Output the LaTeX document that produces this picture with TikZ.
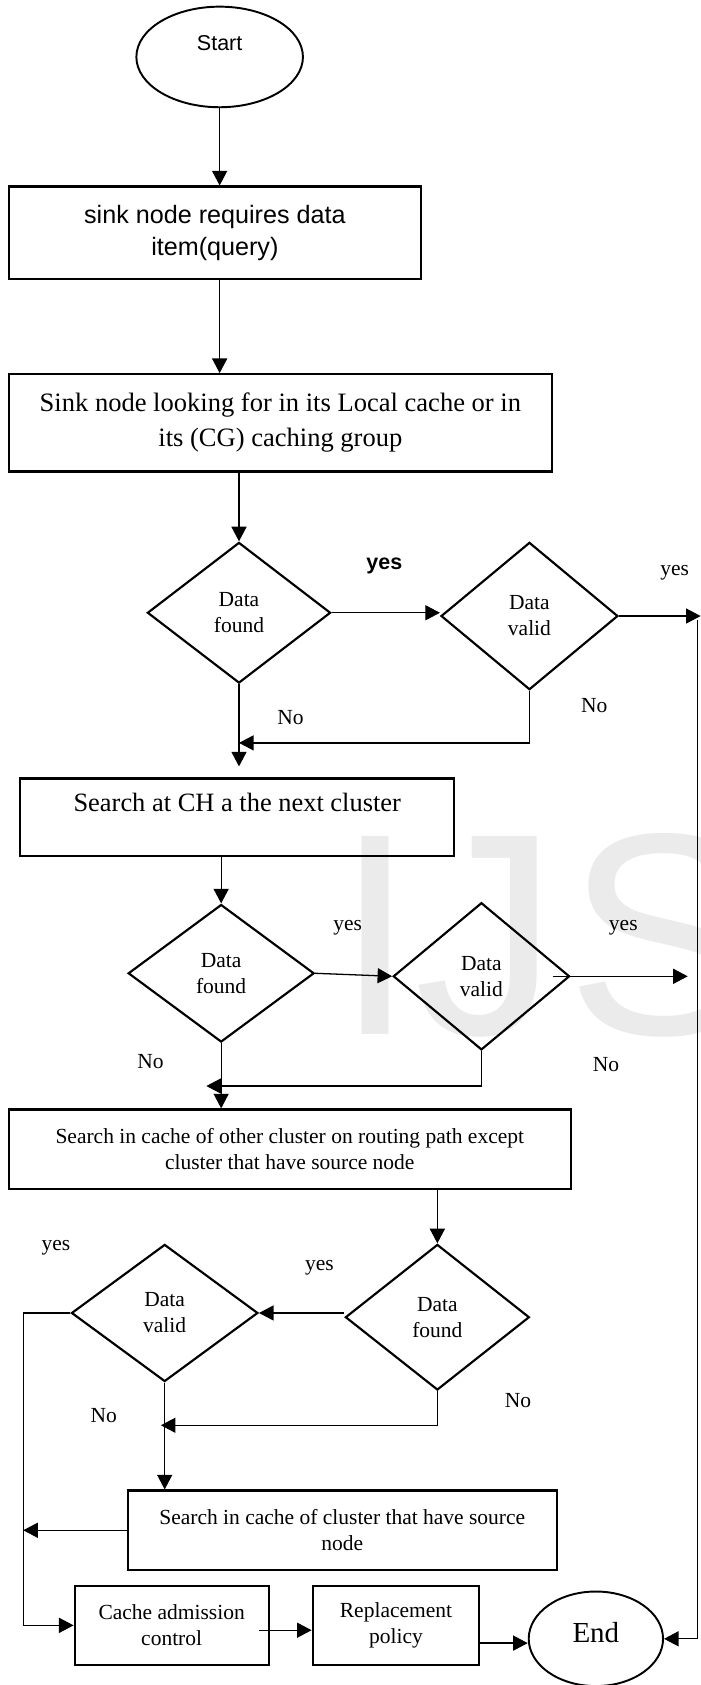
\documentclass[tikz,border=0pt]{standalone}
\usepackage{fontspec}
\setmainfont{Liberation Serif}
\setsansfont{Liberation Sans}
\usetikzlibrary{shapes.geometric,arrows.meta}

\begin{document}
\begin{tikzpicture}[x=0.5pt,y=-0.5pt,
  box/.style={draw, line width=1pt, rectangle, inner sep=0pt, align=center},
  dec/.style={draw, line width=1pt, diamond, inner sep=0pt, align=center,
              font=\fontsize{10}{12.1}\selectfont},
  term/.style={draw, line width=0.9pt, ellipse, inner sep=0pt},
  lab/.style={inner sep=0pt, font=\fontsize{10}{12}\selectfont},
  arr/.style={line width=0.6pt, -{Triangle[length=6.8pt,width=7pt]}},
  wm/.style={anchor=base west, inner sep=0pt, text=black!8,
             font=\sffamily\fontsize{134}{134}\selectfont}]
\useasboundingbox (0,0) rectangle (652,1568);
\fill[white] (0,0) rectangle (652,1568);

% faint watermark letters behind the chart
\begin{scope}
  \clip (0,0) rectangle (652,1568);
  \node[wm] (wmI) at (311.8,962.6) {I};
  \node[wm] (wmJ) at (385,962.6) {J};
  \node[wm] (wmS) at (527,962.6) {S};
\end{scope}

% terminals
\node[term, minimum width=77.5pt, minimum height=46.8pt,
      font=\sffamily\fontsize{10}{12}\selectfont, text depth=12.7pt]
      (start) at (204.4,53) {Start};
\node[term, minimum width=62.5pt, minimum height=44pt,
      font=\fontsize{13.5}{16}\selectfont, text depth=6.4pt]
      (stop) at (554.5,1525) {End};

% process boxes
\node[box, minimum width=191.65pt, minimum height=42.95pt,
      font=\sffamily\fontsize{11.7}{15}\selectfont]
      (query) at (199.95,216.55) {sink node requires data\\item(query)};
\node[box, minimum width=252.6pt, minimum height=45.25pt,
      font=\fontsize{12.35}{16.3}\selectfont]
      (look) at (260.9,393.45) {Sink node looking for in its Local cache or in\\its (CG) caching group};
\node[box, minimum width=202.05pt, minimum height=36.1pt,
      font=\fontsize{12.3}{15}\selectfont, text depth=13.6pt]
      (next) at (220.75,760.6) {Search at CH a the next cluster};
\node[box, minimum width=261.35pt, minimum height=36.9pt,
      font=\fontsize{10}{12.4}\selectfont]
      (other) at (269.65,1069.3) {Search in cache of other cluster on routing path except\\cluster that have source node};
\node[box, minimum width=199.5pt, minimum height=37pt,
      font=\fontsize{10}{12.1}\selectfont]
      (source) at (318.5,1424) {Search in cache of cluster that have source\\node};
\node[box, minimum width=90.25pt, minimum height=36.5pt,
      font=\fontsize{10}{12.1}\selectfont]
      (admit) at (159.75,1512.5) {Cache admission\\control};
\node[box, minimum width=77.5pt, minimum height=36.5pt,
      font=\fontsize{10}{12.1}\selectfont]
      (replace) at (368.5,1512.5) {Replacement\\policy};

% decisions
\node[dec, minimum width=85.25pt, minimum height=65.45pt] (df1) at (222.4,570.2) {Data\\found};
\node[dec, minimum width=82.3pt, minimum height=68.55pt] (dv1) at (492.7,573.25) {Data\\valid};
\node[dec, minimum width=86.5pt, minimum height=64pt] (df2) at (205.8,905.7) {Data\\found};
\node[dec, minimum width=82.05pt, minimum height=68.5pt] (dv2) at (448,908.5) {Data\\valid};
\node[dec, minimum width=85.6pt, minimum height=67.75pt] (df3) at (407,1225.75) {Data\\found};
\node[dec, minimum width=86.75pt, minimum height=63.8pt] (dv3) at (153.25,1221.8) {Data\\valid};

% branch labels
\node[lab, font=\sffamily\bfseries\fontsize{10}{12}\selectfont] (ly1) at (357.6,527) {yes};
\node[lab] (ly2) at (627.8,533.3) {yes};
\node[lab] (ln1) at (270.3,668) {No};
\node[lab] (ln2) at (553,656.7) {No};
\node[lab] (ly3) at (323.5,863.4) {yes};
\node[lab] (ly4) at (580,863.4) {yes};
\node[lab] (ln3) at (140,987.4) {No};
\node[lab] (ln4) at (564,990.5) {No};
\node[lab] (ly5) at (52,1161) {yes};
\node[lab] (ly6) at (297.3,1179.8) {yes};
\node[lab] (ln5) at (96.5,1317.5) {No};
\node[lab] (ln6) at (482,1303.5) {No};

% free ends and joints of the connectors
\coordinate (rtop) at (652,571);
\coordinate (rv) at (649,577);
\coordinate (c1) at (222.4,713.2);
\coordinate (j1) at (222.4,691.3);
\coordinate (yesend) at (640,908.5);
\coordinate (j2) at (192,1010.6);
\coordinate (lv) at (21.6,1221.8);
\coordinate (j3) at (149.7,1326.3);

% connectors
\draw[arr] (start.south) -- (start.south |- query.north);
\draw[arr] (start.south |- query.south) -- (start.south |- look.north);
\draw[arr] (df1.north |- look.south) -- (df1.north);
\draw[arr] (df1.east) -- (df1.east -| dv1.west);
\draw[arr] (dv1.east) -- (dv1.east -| rtop);
\draw[arr] (rv) |- (stop.east);
\draw[arr] (df1.south) -- (c1);
\draw[arr] (dv1.south) |- (j1);
\draw[arr] (df2.north |- next.south) -- (df2.north);
\draw[arr] (df2.east) -- (dv2.west);
\draw[arr] ([xshift=-8pt]dv2.east) -- (yesend);
\draw[arr] (df2.south) -- (df2.south |- other.north);
\draw[arr] (dv2.south) |- (j2);
\draw[arr] (df3.north |- other.south) -- (df3.north);
\draw[arr] (df3.west |- dv3.east) -- (dv3.east);
\draw[arr] (dv3.west) -- (lv) |- (admit.west);
\draw[arr] (dv3.south) -- (dv3.south |- source.north);
\draw[arr] (df3.south) |- (j3);
\draw[arr] (source.west) -- (source.west -| lv);
\draw[arr] ([xshift=-5pt,yshift=-2.25pt]admit.east) -- ([yshift=-2.25pt]replace.west);
\draw[arr] ([yshift=-8.25pt]replace.east) -- ([yshift=-8.25pt]replace.east -| stop.west);
\end{tikzpicture}
\end{document}
